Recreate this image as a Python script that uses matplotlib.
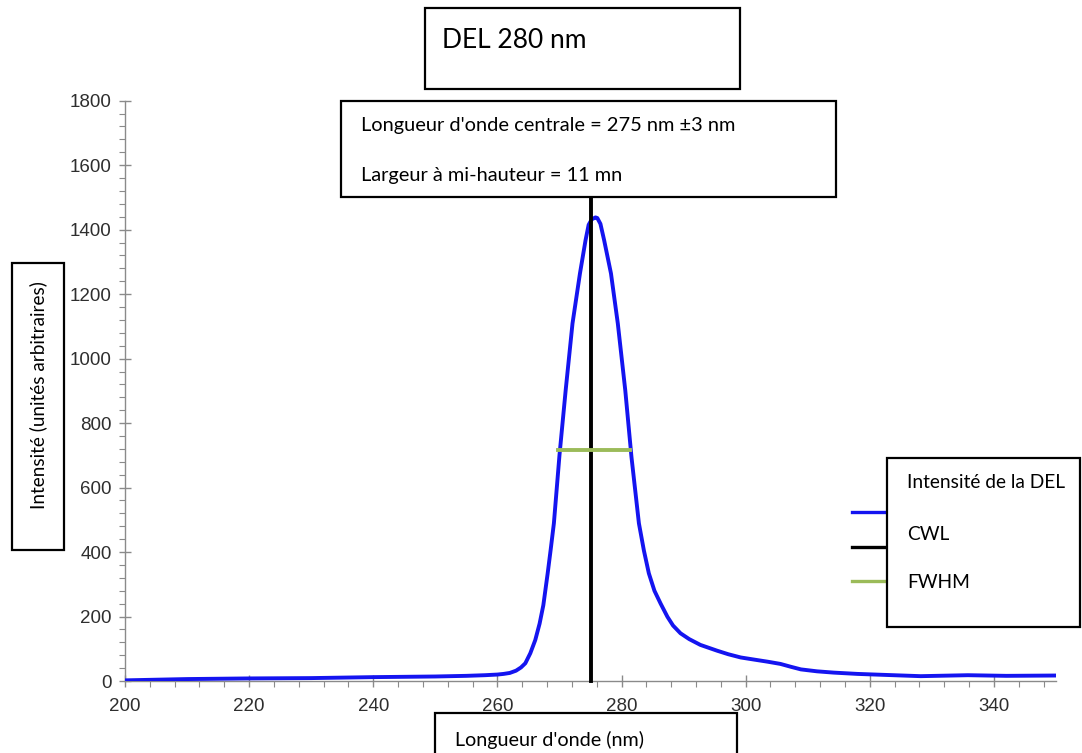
import matplotlib
matplotlib.use("Agg")
import matplotlib.pyplot as plt
from matplotlib.patches import Rectangle
from matplotlib.lines import Line2D
from matplotlib.ticker import MultipleLocator

# ---- data ----
wavelength = [200, 205, 210, 220, 230, 240, 250, 255, 258, 260, 261, 262, 263, 263.8, 264.5,
              265.3, 266.1, 266.8, 267.4, 268.1, 268.6, 269.1, 270.0, 271.0, 272.1, 273.3,
              274.2, 274.7, 275.2, 275.8, 276.1, 276.6, 277.2, 278.3, 279.4, 280.6, 281.6,
              282.8, 283.6, 284.4, 285.3, 286.3, 287.4, 288.3, 289.5, 290.9, 292.7, 295.4,
              297.2, 299.2, 301.5, 303.5, 305.6, 307.3, 308.9, 311.5, 314.2, 318.0, 322.3,
              328.2, 335.8, 342.0, 350.0]
intensity = [2, 4, 6, 8, 9, 12, 14, 16, 18, 20, 22, 25, 32, 42, 55,
             86, 127, 178, 235, 334, 410, 489, 700, 902, 1109, 1264,
             1367, 1415, 1432, 1438, 1436, 1418, 1367, 1264, 1109, 902, 695,
             489, 405, 334, 280, 240, 199, 172, 148, 130, 112, 94,
             83, 73, 66, 60, 53, 44, 36, 30, 26, 22, 19,
             15, 18, 16, 17]
cwl = 275.0
cwl_top = 1500
fwhm_left, fwhm_right, fwhm_level = 269.8, 281.4, 718

title_text = "DEL 280 nm"
info_lines = ["Longueur d'onde centrale = 275 nm \u00b13 nm", "Largeur \u00e0 mi-hauteur = 11 mn"]
xlabel_text = "Longueur d'onde (nm)"
ylabel_text = "Intensit\u00e9 (unit\u00e9s arbitraires)"
legend_labels = ["Intensit\u00e9 de la DEL", "CWL", "FWHM"]

blue = "#1414F0"
green = "#9BBB59"

W, H = 1082, 753
fig = plt.figure(figsize=(W / 100, H / 100), dpi=100)

def fx(px):
    return px / W

def fy(py):
    return 1 - py / H

ax = fig.add_axes([fx(125), fy(681), fx(1056) - fx(125), fy(100.7) - fy(681)])
ax.plot(wavelength, intensity, color=blue, lw=2.8, solid_capstyle="round",
        solid_joinstyle="round", zorder=3)
ax.plot([cwl, cwl], [0, cwl_top], color="black", lw=2.8, zorder=4, clip_on=False)
ax.plot([fwhm_left, fwhm_right], [fwhm_level, fwhm_level], color=green, lw=2.8, zorder=5)

ax.set_xlim(200, 350)
ax.set_ylim(0, 1800)
ax.xaxis.set_major_locator(MultipleLocator(20))
ax.xaxis.set_minor_locator(MultipleLocator(4))
ax.yaxis.set_major_locator(MultipleLocator(200))
ax.yaxis.set_minor_locator(MultipleLocator(40))
for s in ["top", "right"]:
    ax.spines[s].set_visible(False)
for s in ["left", "bottom"]:
    ax.spines[s].set_color("#8a8a8a")
    ax.spines[s].set_linewidth(1.0)
ax.tick_params(axis="both", which="major", direction="inout", length=9, width=1.0,
               color="#8a8a8a", labelcolor="#2e2e2e", labelsize=13.5)
ax.tick_params(axis="both", which="minor", direction="out", length=4, width=0.8,
               color="#8a8a8a")
ax.tick_params(axis="y", which="major", pad=5)
ax.tick_params(axis="x", which="major", pad=8)
for lab in ax.get_xticklabels() + ax.get_yticklabels():
    lab.set_fontfamily("Liberation Sans")

# ---- text boxes ----
def box(x0, y0, x1, y1):
    r = Rectangle((fx(x0), fy(y1)), fx(x1) - fx(x0), fy(y0) - fy(y1), transform=fig.transFigure,
                  facecolor="white", edgecolor="black", lw=1.6, zorder=10)
    fig.add_artist(r)

font = "Lato"
box(425, 8, 740, 89)
fig.text(fx(442), fy(41), title_text, fontsize=19, family=font, va="center", ha="left", zorder=11)

box(341, 101, 836, 197)
fig.text(fx(361), fy(126), info_lines[0], fontsize=14.4, family=font, va="center", ha="left", zorder=11)
fig.text(fx(361), fy(175), info_lines[1], fontsize=14.4, family=font, va="center", ha="left", zorder=11)

box(12, 263, 64, 550)
fig.text(fx(38), fy(395), ylabel_text, fontsize=13.6, family=font, va="center", ha="center",
         rotation=90, zorder=11)

box(435, 713, 737, 770)
fig.text(fx(455), fy(740), xlabel_text, fontsize=14.2, family=font, va="center", ha="left", zorder=11)

box(887, 458, 1080, 627)
legend_y = [483, 535, 582]
for lab, yy in zip(legend_labels, legend_y):
    fig.text(fx(907), fy(yy), lab, fontsize=13.8, family=font, va="center", ha="left", zorder=11)
legend_colors = [blue, "black", green]
legend_line_y = [512, 547, 581]
for c, yy in zip(legend_colors, legend_line_y):
    fig.add_artist(Line2D([fx(852), fx(886)], [fy(yy), fy(yy)], color=c, lw=2.4,
                          transform=fig.transFigure, zorder=9))

fig.savefig("out.png", dpi=100)
